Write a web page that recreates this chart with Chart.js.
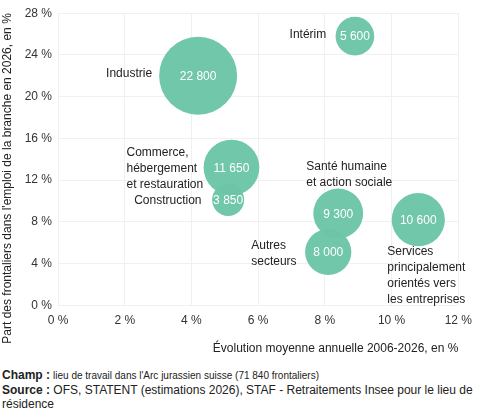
<!DOCTYPE html>
<html><head><meta charset="utf-8">
<script src="https://cdn.jsdelivr.net/npm/chart.js@4"></script>
<style>
body{margin:0;background:#fff;font-family:"Liberation Sans",Arial,sans-serif;color:#222}
#w{position:relative;width:480px;height:362px}
.f{font-size:11px;line-height:14px;padding-left:2px;width:476px}
.f b{font-weight:bold;font-size:12px}
</style></head><body>
<div id="w"><canvas id="c"></canvas></div>
<div class="f" style="margin-top:6px"><b>Champ :</b> <span style="font-size:10px">lieu de travail dans l'Arc jurassien suisse (71 840 frontaliers)</span></div>
<div class="f" style="font-size:12px"><b>Source :</b> OFS, STATENT (estimations 2026), STAF - Retraitements Insee pour le lieu de résidence</div>
<script>
const categories=["Intérim","Industrie","Commerce, hébergement et restauration","Construction","Santé humaine et action sociale","Autres secteurs","Services principalement orientés vers les entreprises"];
const evolution=[8.9,4.2,5.2,5.1,8.4,8.1,10.8];
const share=[25.8,22.0,13.2,10.1,8.8,5.1,8.2];
const frontaliers=[5600,22800,11650,3850,9300,8000,10600];
const labelLines=[["Intérim"],["Industrie"],["Commerce,","hébergement","et restauration"],["Construction"],["Santé humaine","et action sociale"],["Autres","secteurs"],["Services","principalement","orientés vers","les entreprises"]];
const labelOff=[[-47,-1,'center'],[-92,-2,'left'],[-105,-15,'left'],[-94,1,'left'],[-32,-47,'left'],[-77,-6,'left'],[-31,32,'left']];
const fmt=v=>v.toLocaleString('fr-FR').replace(/\u202f|\u00a0/g,' ');
const col='rgba(108,197,166,0.97)';
const lbl={id:'lbl',afterDatasetsDraw(ch){
  const c=ch.ctx,m=ch.getDatasetMeta(0);c.save();
  c.font='12px "Liberation Sans", Arial';
  m.data.forEach((p,i)=>{
    c.fillStyle='#fff';c.textAlign='center';c.textBaseline='middle';
    c.fillText(fmt(frontaliers[i]),p.x,p.y+1);
    c.fillStyle='#222';
    const o=labelOff[i];const ls=labelLines[i];
    c.textAlign=o[2];
    ls.forEach((t,k)=>c.fillText(t,p.x+o[0],p.y+o[1]+k*16));
  });c.restore();}};
Chart.defaults.font.family='"Liberation Sans", Arial, sans-serif';
Chart.defaults.color='#333';
new Chart(document.getElementById('c'),{type:'bubble',
 data:{datasets:[{data:evolution.map((x,i)=>({x,y:share[i],r:39*Math.sqrt(frontaliers[i]/22800)})),backgroundColor:col,borderWidth:0,hoverBorderWidth:0}]},
 options:{responsive:true,maintainAspectRatio:false,animation:false,
  layout:{autoPadding:false,padding:{top:8,right:12,left:0,bottom:2}},
  plugins:{legend:{display:false},tooltip:{enabled:false}},
  scales:{
   x:{min:0,max:12,ticks:{stepSize:2,font:{size:12},callback:v=>v+' %',padding:8},grid:{color:'#f0f0f0',drawTicks:false},border:{display:false},
      title:{display:true,text:'Évolution moyenne annuelle 2006-2026, en %',align:'end',font:{size:12},color:'#222',padding:{top:6}}},
   y:{min:0,max:28,afterFit:s=>{s.width=58},ticks:{stepSize:4,font:{size:12},callback:v=>v+' %',padding:6},grid:{color:'#f0f0f0',drawTicks:false},border:{display:false},
      title:{display:true,text:"Part des frontaliers dans l'emploi de la branche en 2026, en %",align:'end',font:{size:12},color:'#222',padding:0}}
  }},plugins:[lbl]});
</script></body></html>
